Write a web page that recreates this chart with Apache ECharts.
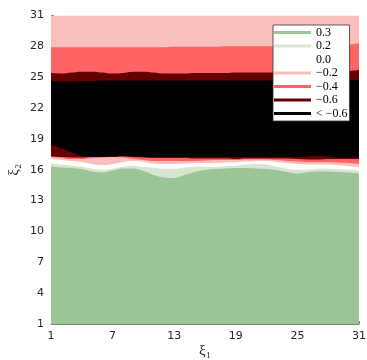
<!DOCTYPE html>
<html>
<head>
<meta charset="utf-8">
<script src="https://cdn.jsdelivr.net/npm/echarts@6/dist/echarts.min.js"></script>
<style>
  html, body { margin: 0; padding: 0; background: #fff; }
  #chart { width: 367px; height: 360px; }
</style>
</head>
<body>
<div id="chart"></div>
<script>
// Grid columns along xi_1
const xi1 = [1,2,3,4,5,6,7,8,9,10,11,12,13,14,15,16,17,18,19,20,21,22,23,24,25,26,27,28,29,30,31];

// Upper edge (in xi_2) of each filled contour band, one value per column
const topPinkUpper = [31,31,31,31,31,31,31,31,31,31,31,31,31,31,31,31,31,31,31,31,31,31,31,31,31,31,31,31,31,31,31];
const topRedUpper = [27.92,27.92,27.92,27.92,27.92,27.92,27.92,27.92,27.92,27.92,27.92,27.92,27.97,27.97,27.97,27.97,27.97,28.02,28.02,28.02,28.02,28.02,28.02,28.02,28.02,28.02,28.02,28.07,28.12,28.17,28.31];
const topDarkRedUpper = [25.40,25.35,25.45,25.54,25.54,25.45,25.35,25.40,25.54,25.54,25.45,25.35,25.35,25.35,25.40,25.40,25.40,25.40,25.45,25.45,25.45,25.45,25.45,25.45,25.45,25.49,25.49,25.49,25.54,25.59,25.69];
const topBlack = [24.62,24.57,24.57,24.62,24.62,24.67,24.67,24.67,24.67,24.67,24.67,24.67,24.67,24.67,24.67,24.67,24.67,24.67,24.67,24.67,24.67,24.67,24.67,24.67,24.67,24.67,24.67,24.72,24.72,24.72,24.72];
const topDarkRedLower = [18.40,18.11,17.67,17.33,17.23,17.23,17.28,17.33,17.28,17.23,17.23,17.23,17.23,17.23,17.23,17.23,17.23,17.23,17.23,17.23,17.23,17.23,17.23,17.23,17.23,17.28,17.33,17.28,17.18,17.18,17.18];
const topRedLower = [17.28,17.23,17.18,17.18,17.23,17.23,17.23,17.28,17.23,17.18,17.14,17.14,17.14,17.14,17.09,17.09,17.09,17.09,17.04,17.09,17.09,17.09,17.09,17.09,17.04,16.99,16.99,17.04,17.04,17.04,17.04];
const topPinkLower = [17.23,17.14,17.04,17.04,17.14,17.18,17.23,17.18,17.04,16.94,16.84,16.84,16.84,16.84,16.84,16.89,16.94,16.94,16.94,16.99,16.99,16.99,16.94,16.84,16.80,16.75,16.75,16.75,16.70,16.65,16.55];
const topWhite = [17.04,16.94,16.84,16.75,16.55,16.45,16.55,16.75,16.84,16.75,16.60,16.55,16.55,16.60,16.65,16.65,16.65,16.70,16.75,16.80,16.84,16.84,16.75,16.65,16.55,16.50,16.50,16.50,16.45,16.36,16.26];
const topLightGreen = [16.60,16.50,16.40,16.30,16.10,16.00,16.10,16.30,16.40,16.30,16.20,16.10,16.10,16.20,16.30,16.30,16.30,16.35,16.40,16.50,16.55,16.50,16.30,16.10,16.00,16.00,16.10,16.10,16.05,16.00,15.90];
const topGreen = [16.32,16.22,16.17,16.07,15.83,15.73,15.93,16.12,16.12,15.88,15.49,15.25,15.20,15.49,15.78,15.97,16.07,16.12,16.17,16.17,16.12,16.07,15.97,15.78,15.63,15.78,15.83,15.83,15.78,15.73,15.63];

// Contour levels shown in the key
const levels = ['0.3', '0.2', '0.0', '\u22120.2', '\u22120.4', '\u22120.6', '< \u22120.6'];
const levelColors = {
  '0.3': '#9bc497',
  '0.2': '#d6e6d2',
  '0.0': '#ffffff',
  '\u22120.2': '#fbbfbb',
  '\u22120.4': '#ff6363',
  '\u22120.6': '#650000',
  '< \u22120.6': '#000000'
};

// Bands painted from the highest edge downwards; each fills to the bottom of the axis
const bands = [
  { level: '\u22120.2', top: topPinkUpper },
  { level: '\u22120.4', top: topRedUpper },
  { level: '\u22120.6', top: topDarkRedUpper },
  { level: '< \u22120.6', top: topBlack },
  { level: '\u22120.6', top: topDarkRedLower },
  { level: '\u22120.4', top: topRedLower },
  { level: '\u22120.2', top: topPinkLower },
  { level: '0.0', top: topWhite },
  { level: '0.2', top: topLightGreen },
  { level: '0.3', top: topGreen }
];

const serif = '"Liberation Serif", "DejaVu Serif", serif';
const sans = '"DejaVu Sans", sans-serif';

const series = bands.map(b => ({
  name: b.level,
  type: 'line',
  data: xi1.map((x, i) => [x, b.top[i]]),
  smooth: 0.35,
  showSymbol: false,
  symbol: 'none',
  silent: true,
  animation: false,
  itemStyle: { color: levelColors[b.level] },
  lineStyle: { width: 0, color: levelColors[b.level] },
  areaStyle: { color: levelColors[b.level], opacity: 1, origin: 'start' }
}));

const chart = echarts.init(document.getElementById('chart'), null, { renderer: 'canvas' });
chart.setOption({
  animation: false,
  backgroundColor: '#ffffff',
  grid: {
    left: 51, right: 8, top: 15.5, bottom: 36,
    containLabel: false,
    outerBoundsMode: 'none'
  },
  legend: {
    data: levels,
    orient: 'vertical',
    left: 273,
    top: 25,
    icon: 'rect',
    itemWidth: 37,
    itemHeight: 3,
    itemGap: 0.5,
    padding: [1, 2, 1, 1],
    backgroundColor: '#ffffff',
    borderColor: '#333333',
    borderWidth: 0.8,
    selectedMode: false,
    textStyle: { fontFamily: serif, fontSize: 12, color: '#000', lineHeight: 13 }
  },
  xAxis: {
    type: 'value',
    min: 1, max: 31, interval: 6,
    name: '\u03be\u2081',
    nameLocation: 'middle',
    nameGap: 20,
    nameMoveOverlap: false,
    nameTextStyle: { fontFamily: serif, fontSize: 15, color: '#262626' },
    axisLine: { show: true, lineStyle: { color: '#808080', width: 1 } },
    axisTick: { show: true, inside: true, length: 3, lineStyle: { color: '#808080' } },
    axisLabel: { fontFamily: sans, fontSize: 11, color: '#262626', margin: 7 },
    splitLine: { show: false }
  },
  yAxis: {
    type: 'value',
    min: 1, max: 31, interval: 3,
    name: '\u03be\u2082',
    nameLocation: 'middle',
    nameGap: 29,
    nameMoveOverlap: false,
    nameTextStyle: { fontFamily: serif, fontSize: 15, color: '#262626' },
    axisLine: { show: true, lineStyle: { color: '#808080', width: 1 } },
    axisTick: { show: true, inside: true, length: 3, lineStyle: { color: '#808080' } },
    axisLabel: { fontFamily: sans, fontSize: 11, color: '#262626', margin: 7 },
    splitLine: { show: false }
  },
  series: series
});
</script>
</body>
</html>
